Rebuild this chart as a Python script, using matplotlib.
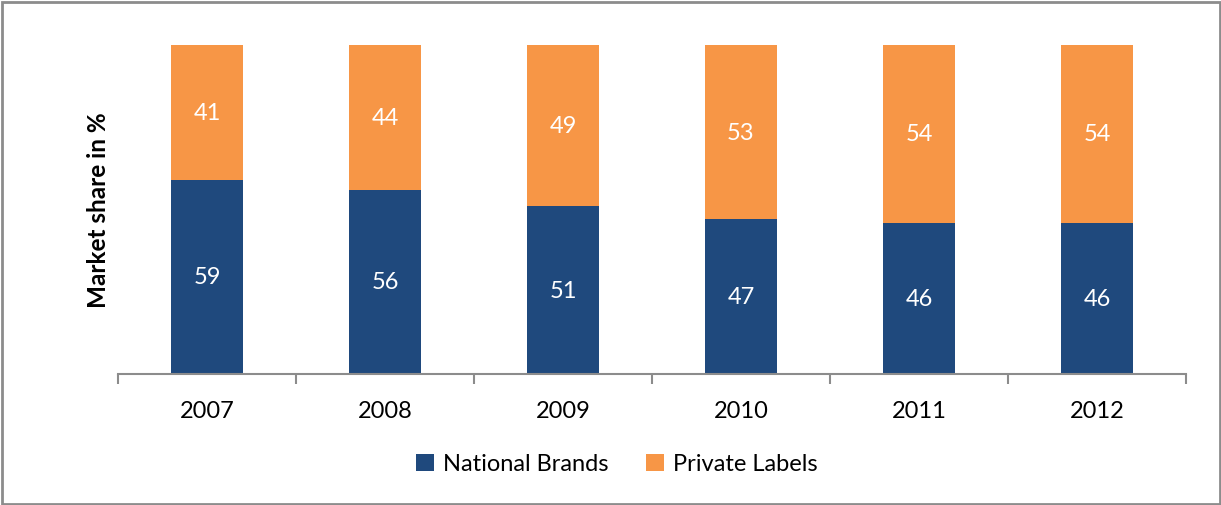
import matplotlib.pyplot as plt
from matplotlib.patches import Rectangle

plt.rcParams['font.family'] = ['Lato', 'DejaVu Sans']

years = ['2007', '2008', '2009', '2010', '2011', '2012']
national = [59, 56, 51, 47, 46, 46]
private = [41, 44, 49, 53, 54, 54]

navy = '#1f497d'
orange = '#f79646'

W, H = 1221, 506
fig = plt.figure(figsize=(W / 100, H / 100), dpi=100)
ax = fig.add_axes([118 / W, (H - 375) / H, (1186 - 118) / W, (375 - 46) / H])

x = range(len(years))
b1 = ax.bar(x, national, width=0.4, color=navy, label='National Brands')
b2 = ax.bar(x, private, width=0.4, bottom=national, color=orange, label='Private Labels')

for i in x:
    ax.text(i, national[i] / 2, str(national[i]), ha='center', va='center',
            color='white', fontsize=17)
    ax.text(i, national[i] + private[i] / 2, str(private[i]), ha='center', va='center',
            color='white', fontsize=17)

ax.set_xlim(-0.5, len(years) - 0.5)
ax.set_ylim(0, 100)
ax.set_yticks([])
for s in ['top', 'right', 'left']:
    ax.spines[s].set_visible(False)
ax.spines['bottom'].set_color('#8c8c8c')
ax.spines['bottom'].set_linewidth(1.5)

ax.set_xticks(list(x))
ax.set_xticklabels(years, fontsize=17)
ax.tick_params(axis='x', which='major', length=0, pad=19)
ax.set_xticks([i - 0.5 for i in range(len(years) + 1)], minor=True)
ax.tick_params(axis='x', which='minor', length=7, width=1.5, color='#8c8c8c')

ax.set_ylabel('Market share in %', fontsize=17.5, fontweight='bold', labelpad=6)

fig.legend(handles=[b1, b2], loc='center', bbox_to_anchor=(617 / W, (H - 465) / H),
           ncol=2, frameon=False, fontsize=17, handlelength=0.75, handleheight=0.75,
           columnspacing=1.6, handletextpad=0.4)

fig.add_artist(Rectangle((1.5 / W, 1.5 / H), (W - 3) / W, (H - 4) / H,
                         transform=fig.transFigure, fill=False,
                         edgecolor='#8c8c8c', linewidth=2))

fig.savefig('out.png', dpi=100)
